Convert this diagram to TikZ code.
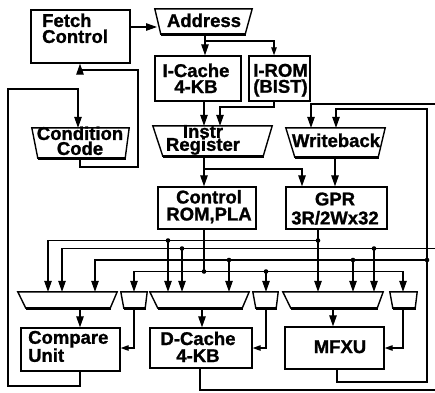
\documentclass[tikz,border=0pt]{standalone}
\usepackage{fontspec}
\setmainfont{Liberation Sans}[BoldFeatures={FakeBold=1.2}]
\usetikzlibrary{arrows.meta}
% tightly stacked two-line labels
\setlength{\lineskiplimit}{-30pt}

\tikzset{
  wire/.style={line width=1.2pt},
  arr/.style={wire, -{Triangle[length=11pt,width=7.5pt]}},
  sarr/.style={wire, -{Triangle[length=8pt,width=5.5pt]}},
  box/.style={draw, line width=1.4pt, inner sep=0pt},
  trapbase/.style={draw=none, inner sep=0pt},
  txt/.style={font=\bfseries\fontsize{18.5}{#1}\selectfont,
              inner sep=0pt, align=center},
  txt/.default=16,
  dot/.style={fill, inner sep=0pt, minimum size=4.6pt, circle}
}

% outline of a register / multiplexer: wide top, narrow bottom, heavy bottom edge
\newcommand\trapez[3]{%
  \draw[line width=1.4pt] (#1.north west) -- (#1.north east)
     -- ([xshift=-#3]#1.south east) -- ([xshift=#2]#1.south west) -- cycle;
  \draw[line width=2.8pt] ([xshift=#2,yshift=-0.6pt]#1.south west)
     -- ([xshift=-#3+1pt,yshift=-0.6pt]#1.south east);
}

\begin{document}
\begin{tikzpicture}[x=1pt,y=-1pt]
\useasboundingbox (0,0) rectangle (435,392);

% ---------- blocks ----------
\node[box, minimum width=99pt, minimum height=53pt] (fetch)  at (80.5,36.5) {};
\node[box, minimum width=86pt, minimum height=45pt] (icache) at (198,78.5) {};
\node[box, minimum width=61pt, minimum height=45pt] (irom)   at (279.5,78.5) {};
\node[box, minimum width=98pt, minimum height=42pt] (ctrl)   at (207,208) {};
\node[box, minimum width=101pt, minimum height=42pt] (gpr)   at (336.5,208) {};
\node[box, minimum width=99pt, minimum height=43pt] (cmp)    at (70.5,349.5) {};
\node[box, minimum width=102pt, minimum height=40pt] (dcache) at (201,348) {};
\node[box, minimum width=99pt, minimum height=42pt] (mfxu)   at (334.5,348) {};

% ---------- registers and multiplexers ----------
\node[trapbase, minimum width=97pt,  minimum height=25pt] (addr)  at (203.5,21.5) {};
\node[trapbase, minimum width=97pt,  minimum height=30pt] (cond)  at (80.5,143) {};
\node[trapbase, minimum width=119pt, minimum height=30pt] (instr) at (212.5,141) {};
\node[trapbase, minimum width=99pt,  minimum height=29pt] (wb)    at (335.5,142.5) {};
\node[trapbase, minimum width=99pt,  minimum height=16pt] (m1) at (67.5,300) {};
\node[trapbase, minimum width=26pt,  minimum height=16pt] (s1) at (134,300) {};
\node[trapbase, minimum width=99pt,  minimum height=16pt] (m2) at (199.5,300) {};
\node[trapbase, minimum width=25pt,  minimum height=16pt] (s2) at (265.5,300) {};
\node[trapbase, minimum width=100pt, minimum height=16pt] (m3) at (333,300) {};
\node[trapbase, minimum width=27pt,  minimum height=16pt] (s3) at (403.5,300) {};

\trapez{addr}{6pt}{7pt}
\trapez{cond}{6pt}{4pt}
\trapez{instr}{10pt}{9pt}
\trapez{wb}{9pt}{7pt}
\trapez{m1}{8pt}{7pt}
\trapez{s1}{3pt}{2pt}
\trapez{m2}{8pt}{7pt}
\trapez{s2}{3pt}{2pt}
\trapez{m3}{8pt}{6pt}
\trapez{s3}{3pt}{2pt}

% ---------- labels ----------
\node[txt, align=left, anchor=west] (tFetch) at (42,28.3)  {Fetch\\Control};
\node[txt, anchor=base]  (tAddr)  at (204,27)    {Address};
\node[txt]               (tIC)    at (196,78.3)  {I-Cache\\4-KB};
\node[txt]               (tIR)    at (280.5,80.2) {I-ROM\\(BIST)};
\node[txt=15]            (tCC)    at (80,140.8)  {Condition\\Code};
\node[txt=13]            (tIn)    at (203,139.9) {Instr\\Register};
\node[txt, anchor=base]  (tWB)    at (336,147)   {Writeback};
\node[txt=17]            (tCt)    at (209,206.7) {Control\\ROM,PLA};
\node[txt=19]            (tG)     at (335,208.6) {GPR\\3R/2Wx32};
\node[txt=18, align=left, anchor=west] (tCm) at (28,346.4) {Compare\\Unit};
\node[txt=17]            (tDC)    at (198,346.8) {D-Cache\\4-KB};
\node[txt, anchor=base]  (tMF)    at (340,353)   {MFXU};

% ---------- fetch path ----------
\draw[arr] (fetch.east |- 0,27) -- (157,27);
\draw[arr] (205,0 |- addr.south) -- (205,0 |- icache.north);
\draw[sarr] (205,41) -| (274,0 |- irom.north);
\draw[arr] (204,0 |- icache.south) -- (204,0 |- instr.north);
\draw[arr] (274,0 |- irom.south) |- (220,107) -- (220,0 |- instr.north);
\draw[arr] (204,0 |- instr.south) -- (204,0 |- ctrl.north);
\draw[arr] (204,169) -| (302,0 |- gpr.north);
\draw[arr] (335,0 |- wb.south) -- (335,0 |- gpr.north);

% ---------- condition code loop ----------
\draw[arr] (80,0 |- cond.south) -- (80,167) -- (138,167) -- (138,70) -- (80,70)
   -- (80,0 |- fetch.south);
\draw[arr] (80,0 |- cmp.south) -- (80,386) -- (8,386) -- (8,89) -- (78,89)
   -- (78,0 |- cond.north);

% ---------- result write-back ----------
\draw[wire] (200,0 |- dcache.south) |- (435,390);
\draw[arr] (435,104) -| (311,0 |- wb.north);
\draw[arr] (337,0 |- mfxu.south) |- (427,382) |- (336,109) -- (336,0 |- wb.north);

% ---------- operand buses ----------
\draw[arr] (318,0 |- gpr.south) -- (318,0 |- m3.north);
\draw[arr] (318,240.5) -| (48,0 |- m1.north);
\draw[arr] (168,240.5) -- (168,0 |- m2.north);

\draw[arr] (435,248.5) -| (62,0 |- m1.north);
\draw[arr] (182,248.5) -- (182,0 |- m2.north);
\draw[arr] (374,248.5) -- (374,0 |- m3.north);

\draw[arr] (427,260) -| (95,0 |- m1.north);
\draw[arr] (229,260) -- (229,0 |- m2.north);
\draw[arr] (353,260) -- (353,0 |- m3.north);

\draw[wire] (204,0 |- ctrl.south) -- (204,271.5);
\draw[arr] (204,271.5) -| (134,0 |- s1.north);
\draw[arr] (204,271.5) -| (403,0 |- s3.north);
\draw[arr] (266,271.5) -- (266,0 |- s2.north);

% ---------- multiplexer outputs ----------
\draw[arr] (80,0 |- m1.south) -- (80,0 |- cmp.north);
\draw[arr] (202,0 |- m2.south) -- (202,0 |- dcache.north);
\draw[arr] (333,0 |- m3.south) -- (333,0 |- mfxu.north);
\draw[sarr] (134,0 |- s1.south) |- (cmp.east |- 0,348);
\draw[sarr] (266,0 |- s2.south) |- (dcache.east |- 0,348);
\draw[sarr] (403,0 |- s3.south) |- (mfxu.east |- 0,348);

% ---------- junctions ----------
\foreach \p/\n in {{168,240.5}/jA1, {318,240.5}/jA2, {182,248.5}/jB1, {374,248.5}/jB2,
                   {229,260}/jC1, {353,260}/jC2, {427,260}/jC3,
                   {204,271.5}/jD1, {266,271.5}/jD2}
  \node[dot] (\n) at (\p) {};
\end{tikzpicture}
\end{document}
